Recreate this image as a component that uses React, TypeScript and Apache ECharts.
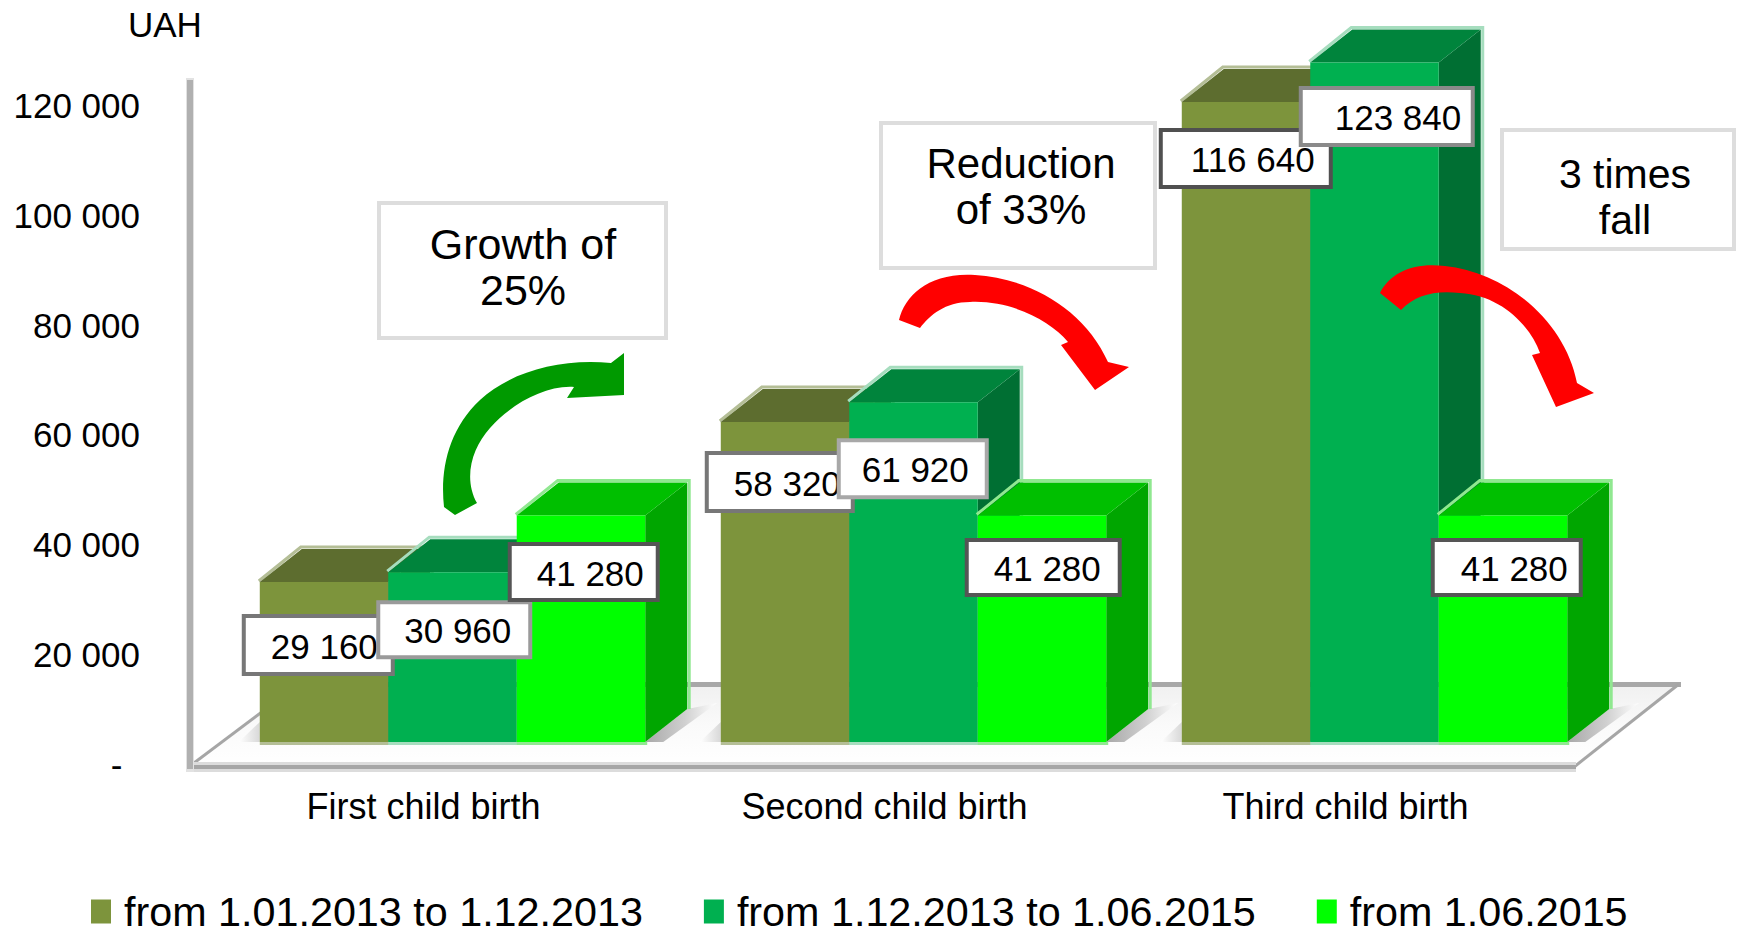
import React, { useEffect, useRef } from "react";
import * as echarts from "echarts";

const categories = ["First child birth", "Second child birth", "Third child birth"];
const seriesNames = ["from 1.01.2013 to 1.12.2013", "from 1.12.2013 to 1.06.2015", "from 1.06.2015"];
const periodOne = [29160, 58320, 116640];
const periodTwo = [30960, 61920, 123840];
const periodThree = [41280, 41280, 41280];
const seriesValues = [periodOne, periodTwo, periodThree];

const FONT = '"Liberation Sans", Arial, sans-serif';
const faces = [
  { front: "#7D943C", top: "#5D6D2F", side: "#4F5F28", edge: "#B4BE96" },
  { front: "#00B050", top: "#00843C", side: "#006F33", edge: "#A6DDBE" },
  { front: "#00FF00", top: "#00BF00", side: "#00A600", edge: "#90E890" },
];
const DEPTH_X = 42;
const DEPTH_Y = 33;
const BAR_RATIO = 0.2787;
const GROUP_SHIFT = 29;

// label box layout relative to each bar's front-top-left corner: [dx, dy, w, h, textDx, border]
const labelLayout: any[][][] = [
  [[-18, 32, 153, 62, 29, "#777777"], [-16, 29, 150, 62, 29, "#777777"], [-23, 26, 174, 61, 32, "#505050"]],
  [[-12, 28, 156, 59, 28, "#9a9a9a"], [-12.5, 36, 152, 61, 25, "#a8a8a8"], [-11.5, 23.5, 176, 61, 36, "#8a8a8a"]],
  [[-9, 26.5, 152, 60, 29, "#555555"], [-13, 22.5, 157, 59, 29, "#555555"], [-8, 22.5, 152, 59, 30, "#555555"]],
];

const fmt = (v: number) => String(v).replace(/\B(?=(\d{3})+$)/g, " ");

echarts.graphic.registerShape(
  "arrowGrowth",
  echarts.graphic.extendPath(
    "M455 515 L444 507 C440 470 448 430 480 400 C510 372 560 358 611 363 L624 353 L624 395 L567 398 L574 387 C545 385 510 405 490 428 C472 448 463 478 477 503 Z",
    {}
  )
);
echarts.graphic.registerShape(
  "arrowReduction",
  echarts.graphic.extendPath(
    "M899 320 C905 295 930 272 975 275 C1030 278 1085 310 1108 362 L1129 367 L1095 390 L1061 345 L1068 342 C1050 320 1010 300 970 302 C945 302 930 315 920 328 Z",
    {}
  )
);
echarts.graphic.registerShape(
  "arrowFall",
  echarts.graphic.extendPath(
    "M1380 293 C1390 272 1415 262 1445 266 C1505 272 1565 320 1577 383 L1594 393 L1556 407 L1532 355 L1540 353 C1530 325 1500 295 1460 293 C1435 290 1415 295 1401 310 Z",
    {}
  )
);

function barGeometry(seriesIndex: number, api: any) {
  const i = api.value(0);
  const v = api.value(1);
  const band = api.size([1, 0])[0];
  const [cx, top] = api.coord([i, v]);
  const base = api.coord([i, 0])[1];
  const w = band * BAR_RATIO;
  const left = cx + GROUP_SHIFT + (seriesIndex - 1.5) * w;
  return { i, v, w, left, right: left + w, top, base };
}

function renderBar(seriesIndex: number) {
  return (_p: any, api: any) => {
    const { w, left, right, top, base } = barGeometry(seriesIndex, api);
    const c = faces[seriesIndex];
    const children: any[] = [];
    if (seriesIndex === 0) {
      children.push({
        type: "polygon",
        shape: { points: [[left, base], [left, base - 20], [left - 21, base]] },
        style: {
          fill: new echarts.graphic.LinearGradient(1, 0, 0, 0, [
            { offset: 0, color: "#d8d8d8" },
            { offset: 1, color: "#ffffff" },
          ]),
        },
      });
    }
    if (seriesIndex === 2) {
      children.push({
        type: "polygon",
        shape: {
          points: [[right, base], [right + DEPTH_X, base - DEPTH_Y], [right + DEPTH_X + 30, base - 39], [right + 18, base]],
        },
        style: {
          fill: new echarts.graphic.LinearGradient(0, 0, 1, 0, [
            { offset: 0, color: "#a8a8a8" },
            { offset: 0.55, color: "#d0d0d0" },
            { offset: 1, color: "#ffffff" },
          ]),
        },
      });
    }
    children.push(
      {
        type: "polyline",
        shape: {
          points: [
            [left - 1, top - 1],
            [left + DEPTH_X - 1, top - DEPTH_Y - 2],
            [right + DEPTH_X + 2, top - DEPTH_Y - 2],
            [right + DEPTH_X + 2, base - DEPTH_Y],
          ],
        },
        style: { stroke: c.edge, lineWidth: 3, fill: "none" },
      },
      {
        type: "rect",
        shape: { x: left, y: base, width: w + 2, height: 3 },
        style: { fill: c.edge },
      },
      {
        type: "polygon",
        shape: { points: [[right, top], [right + DEPTH_X, top - DEPTH_Y], [right + DEPTH_X, base - DEPTH_Y], [right, base]] },
        style: { fill: c.side },
      },
      {
        type: "polygon",
        shape: { points: [[left, top], [left + DEPTH_X, top - DEPTH_Y], [right + DEPTH_X, top - DEPTH_Y], [right, top]] },
        style: { fill: c.top },
      },
      {
        type: "rect",
        shape: { x: left, y: top, width: w, height: base - top },
        style: { fill: c.front },
      }
    );
    return { type: "group", children };
  };
}

function renderLabel(seriesIndex: number) {
  return (_p: any, api: any) => {
    const { i, v, left, top } = barGeometry(seriesIndex, api);
    const [dx, dy, bw, bh, tdx, border] = labelLayout[seriesIndex][i];
    const x = left + dx;
    const y = top + dy;
    return {
      type: "group",
      children: [
        {
          type: "rect",
          shape: { x: x + 2, y: y + 2, width: bw - 4, height: bh - 4 },
          style: { fill: "#ffffff", stroke: border, lineWidth: 4 },
        },
        {
          type: "text",
          style: {
            text: fmt(v),
            x: x + tdx,
            y: y + bh / 2 + 1,
            fill: "#000000",
            fontSize: 35,
            fontFamily: FONT,
            align: "left",
            verticalAlign: "middle",
          },
        },
      ],
    };
  };
}

function callout(x: number, y: number, w: number, h: number, cx: number, lines: [string, number][], size: number) {
  return [
    {
      type: "rect",
      z: 10,
      shape: { x: x + 2, y: y + 2, width: w - 4, height: h - 4 },
      style: { fill: "#ffffff", stroke: "#dddddd", lineWidth: 4 },
    },
    ...lines.map(([text, ly]) => ({
      type: "text",
      z: 11,
      x: cx,
      y: ly,
      style: { text, fontSize: size, fontFamily: FONT, fill: "#000000", align: "center", verticalAlign: "middle" },
    })),
  ];
}

function buildOption() {
  const dataOf = (vals: number[]) => vals.map((v, i) => [i, v]);
  const barSeries = seriesValues.map((vals, s) => ({
    type: "custom",
    name: seriesNames[s],
    z: 3,
    itemStyle: { color: faces[s].front },
    encode: { x: 0, y: 1 },
    data: dataOf(vals),
    renderItem: renderBar(s),
  }));
  const labelSeries = seriesValues.map((vals, s) => ({
    type: "custom",
    name: seriesNames[s] + " labels",
    z: 5 + s,
    encode: { x: 0, y: 1 },
    data: dataOf(vals),
    renderItem: renderLabel(s),
  }));
  return {
    animation: false,
    backgroundColor: "#ffffff",
    grid: { left: 193, width: 1383, top: 83.6, height: 658.4 },
    xAxis: {
      type: "category",
      data: categories,
      axisLine: { show: false },
      axisTick: { show: false },
      axisLabel: { fontSize: 36, fontFamily: FONT, color: "#000000", margin: 46 },
    },
    yAxis: {
      type: "value",
      min: 0,
      max: 120000,
      interval: 20000,
      axisLine: { show: false },
      axisTick: { show: false },
      splitLine: { show: false },
      axisLabel: {
        fontSize: 35,
        fontFamily: FONT,
        color: "#000000",
        margin: 53,
        verticalAlign: "top",
        lineHeight: 44,
        formatter: (v: number) => (v === 0 ? "-\u2002" : fmt(v)),
      },
    },
    legend: {
      data: seriesNames,
      left: 91,
      top: 891,
      padding: 0,
      itemWidth: 20,
      itemHeight: 24,
      itemGap: 61,
      icon: "rect",
      selectedMode: false,
      textStyle: { fontSize: 41.3, fontFamily: FONT, color: "#000000", padding: [0, 0, 0, 8] },
    },
    graphic: {
      elements: [
        {
          type: "polygon",
          z: 0,
          shape: { points: [[298, 684], [1679, 684], [1574, 767], [193, 767]] },
          style: {
            fill: new echarts.graphic.LinearGradient(0, 0, 0, 1, [
              { offset: 0, color: "#f0f0f0" },
              { offset: 0.5, color: "#fafafa" },
              { offset: 1, color: "#ffffff" },
            ]),
          },
        },
        { type: "line", z: 1, shape: { x1: 298, y1: 684.5, x2: 1681, y2: 684.5 }, style: { stroke: "#a8a8a8", lineWidth: 5 } },
        { type: "line", z: 1, shape: { x1: 194, y1: 763, x2: 299, y2: 684 }, style: { stroke: "#a6a6a6", lineWidth: 3 } },
        { type: "line", z: 1, shape: { x1: 1574, y1: 767, x2: 1679, y2: 684 }, style: { stroke: "#a6a6a6", lineWidth: 3 } },
        { type: "rect", z: 1, shape: { x: 186, y: 762, width: 1390, height: 10 }, style: { fill: "#dcdcdc" } },
        { type: "rect", z: 1, shape: { x: 186, y: 765, width: 1390, height: 4 }, style: { fill: "#a6a6a6" } },
        { type: "rect", z: 1, shape: { x: 186, y: 78, width: 8, height: 694 }, style: { fill: "#e2e2e2" } },
        { type: "rect", z: 1, shape: { x: 187, y: 80, width: 6, height: 689 }, style: { fill: "#b0b0b0" } },
        {
          type: "text",
          z: 11,
          x: 128,
          y: 24,
          style: { text: "UAH", fontSize: 35, fontFamily: FONT, fill: "#000000", align: "left", verticalAlign: "middle" },
        },
        ...callout(377, 201, 291, 139, 523, [["Growth of", 244], ["25%", 290]], 43),
        ...callout(879, 121, 278, 149, 1021, [["Reduction", 163], ["of 33%", 209]], 42),
        ...callout(1500, 128, 236, 123, 1625, [["3 times", 174], ["fall", 220]], 41),
        { type: "arrowGrowth", z: 12, style: { fill: "#009A00" } },
        { type: "arrowReduction", z: 12, style: { fill: "#FF0000" } },
        { type: "arrowFall", z: 12, style: { fill: "#FF0000" } },
      ],
    },
    series: [...barSeries, ...labelSeries],
  };
}

export default function App() {
  const ref = useRef<HTMLDivElement>(null);
  useEffect(() => {
    if (!ref.current) return;
    const chart = echarts.init(ref.current, undefined, { renderer: "svg" });
    chart.setOption(buildOption() as any);
    return () => chart.dispose();
  }, []);
  return <div ref={ref} style={{ position: "fixed", left: 0, top: 0, width: 1738, height: 935 }} />;
}
